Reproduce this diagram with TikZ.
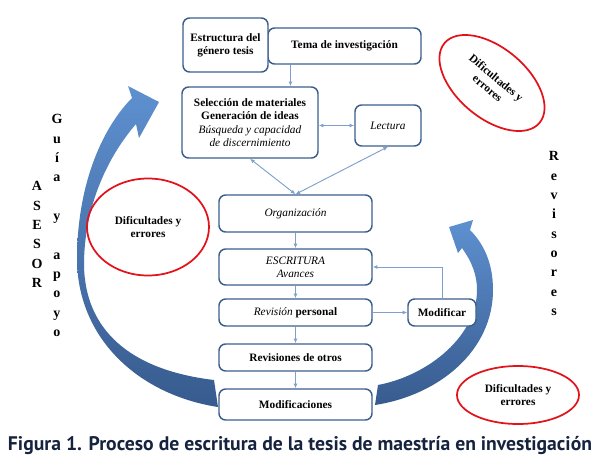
\documentclass[tikz,border=0pt]{standalone}
\usepackage{graphicx}
\usepackage{fontspec}
\setmainfont{Liberation Serif}
\newfontfamily\capfont{PT Sans}
\usetikzlibrary{arrows.meta,calc,shapes.geometric}
\definecolor{boxc}{HTML}{3B5E8C}
\definecolor{conc}{HTML}{7EA0CB}
\definecolor{redc}{HTML}{E2121B}
\definecolor{arrL}{HTML}{5E90D0}
\definecolor{arrD}{HTML}{375B8E}
\definecolor{capc}{HTML}{16233F}
\begin{document}
\begin{tikzpicture}[x=0.75pt,y=-0.75pt,
 box/.style={draw=boxc,line width=1.1pt,rounded corners=5pt,fill=white,inner sep=1pt,align=center,font=\fontsize{8.5}{10}\selectfont},
 conn/.style={draw=conc,line width=0.7pt,-{Latex[length=3.5pt,width=3pt]}},
 dconn/.style={draw=conc,line width=0.7pt,{Latex[length=3.5pt,width=3pt]}-{Latex[length=3.5pt,width=3pt]}},
 difi/.style={draw=redc,line width=1.3pt,ellipse,align=center,inner sep=0pt,font=\bfseries\fontsize{8.5}{10}\selectfont},
 vert/.style={align=center,font=\bfseries\fontsize{10.5}{14.5}\selectfont,inner sep=0pt},
 bigarrow/.style={top color=arrL,bottom color=arrD,draw=none}
]
\useasboundingbox (0,0) rectangle (600,464);

% big curved arrows
\path[bigarrow] (218,407) .. controls (140,395) and (78,340) .. (77,260)
  .. controls (77,180) and (105,125) .. (132,98)
  -- (128,86) -- (159,102) -- (139,138) -- (136,124)
  .. controls (105,160) and (84,210) .. (84,265)
  .. controls (85,330) and (130,370) .. (214,380) -- cycle;
\path[bigarrow] (375,405) .. controls (440,395) and (493,350) .. (493,290)
  .. controls (493,262) and (483,243) .. (470,230)
  -- (473,220) -- (449,227) -- (458,253) -- (462,248)
  .. controls (472,262) and (477,275) .. (477,290)
  .. controls (477,335) and (430,375) .. (378,385) -- cycle;

% boxes
\node[box,minimum width=114.75pt,minimum height=27pt] (tema) at (344.5,46) {\bfseries Tema de investigación};
\node[box,minimum width=63.75pt,minimum height=40.5pt] (est) at (225.5,45) {\bfseries Estructura del\\\bfseries género tesis};
\node[box,minimum width=102pt,minimum height=53.25pt] (sel) at (250,122.5) {\bfseries Selección de materiales\\\bfseries Generación de ideas\\\itshape Búsqueda y capacidad\\\itshape de discernimiento};
\node[box,minimum width=49.5pt,minimum height=30.75pt] (lec) at (388,125.5) {\itshape Lectura};
\node[box,minimum width=114.75pt,minimum height=27.75pt] (org) at (295.5,213.5) {\itshape Organización};
\node[box,minimum width=114.75pt,minimum height=27pt] (esc) at (295.5,267) {\itshape ESCRITURA\\\itshape Avances};
\node[box,minimum width=114.75pt,minimum height=20.25pt] (rev) at (295.5,312.5) {\textit{Revisión} \textbf{personal}};
\node[box,minimum width=114.75pt,minimum height=20.25pt] (otros) at (295.5,357.5) {\bfseries Revisiones de otros};
\node[box,minimum width=114.75pt,minimum height=23.25pt] (modif) at (295.5,404.5) {\bfseries Modificaciones};
\node[box,minimum width=51pt,minimum height=20.25pt] (mod) at (442,312.5) {\bfseries Modificar};

% connectors
\coordinate (t1) at ($(tema.south west)!0.15!(tema.south east)$);
\draw[conn] (t1) -- (t1 |- sel.north);
\draw[dconn] (sel.east |- lec.west) -- (lec.west);
\draw[dconn] (sel.south) -- (org.north);
\draw[dconn] (lec.south) -- (org.north);
\draw[conn] (org.south) -- (esc.north);
\draw[conn] (esc.south) -- (rev.north);
\draw[conn] (rev.south) -- (otros.north);
\draw[conn] (otros.south) -- (modif.north);
\draw[conn] (rev.east) -- (mod.west);
\draw[conn] (mod.north) |- (esc.east);

% red ellipses
\node[difi,minimum width=91.5pt,minimum height=72.75pt] (d1) at (148,227) {Dificultades y\\errores};
\node[difi,minimum width=91.5pt,minimum height=43.5pt] (d2) at (518,395) {Dificultades y\\errores};
\node[difi,minimum width=93pt,minimum height=52.5pt,rotate=-40] (d3) at (492,83) {Dificultades y\\errores};

% vertical words
\node[vert] (asesor) at (37,234.5) {A\\S\\E\\S\\O\\R};
\node[vert] (guia) at (57,225.5) {G\\u\\í\\a\\\mbox{}\\y\\\mbox{}\\a\\p\\o\\y\\o};
\node[vert] (revis) at (554,233.5) {R\\e\\v\\i\\s\\o\\r\\e\\s};

% caption
\node[text=capc,inner sep=0pt] (cap) at (300,446) {\resizebox{438pt}{!}{\capfont\bfseries Figura 1. Proceso de escritura de la tesis de maestría en investigación}};
\end{tikzpicture}
\end{document}
